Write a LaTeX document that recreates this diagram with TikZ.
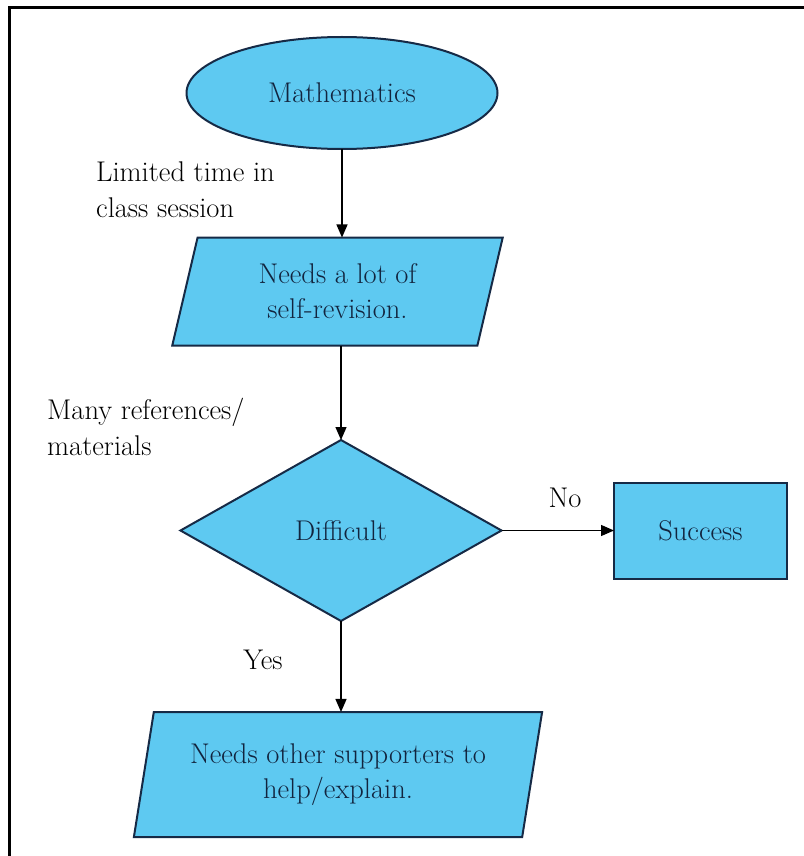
\documentclass[tikz,border=0pt]{standalone}
\usetikzlibrary{shapes.geometric,arrows.meta}
\definecolor{boxfill}{RGB}{94,201,241}
\definecolor{boxline}{RGB}{22,42,70}
\definecolor{boxtext}{RGB}{18,36,62}
\begin{document}
\begin{tikzpicture}[x=1pt,y=-1pt,
  shapebase/.style={draw=boxline,fill=boxfill,line width=2pt,text=boxtext,
    font=\fontsize{28.5}{35}\selectfont,align=center,inner sep=0pt,outer sep=0pt},
  ellbox/.style={shapebase,ellipse,minimum width=311pt,minimum height=112pt},
  parabox/.style={shapebase,trapezium,trapezium left angle=75.5,trapezium right angle=104.5,
    trapezium stretches=true},
  diabox/.style={shapebase,diamond,minimum width=321pt,minimum height=181pt},
  rectbox/.style={shapebase,rectangle,minimum width=173pt,minimum height=96pt},
  lbl/.style={font=\fontsize{28.5}{36}\selectfont,align=left,inner sep=0pt,text=black},
  conn/.style={draw=black,line width=1.3pt,-{Triangle[length=13pt,width=11pt]}}]
\useasboundingbox (0,0) rectangle (803,856);
\fill[white] (0,0) rectangle (803,856);
\draw[line width=3pt,black] (9.5,860) -- (9.5,8) -- (810,8);

\node[ellbox] (math) at (342,93) {Mathematics};
\node[parabox,minimum width=331pt,minimum height=108pt] (self) at (337.5,291.5) {Needs a lot of\\self-revision.};
\node[diabox] (diff) at (341,530.5) {Difficult};
\node[rectbox] (succ) at (700.5,530.5) {Success};
\node[parabox,minimum width=410pt,minimum height=125pt] (supp) at (338,774.5) {Needs other supporters to\\help/explain.};

\node[lbl,anchor=west] (l1) at (96,190) {Limited time in\\class session};
\node[lbl,anchor=west] (l2) at (47,427) {Many references/\\materials};
\node[lbl] (yes) at (263,660) {Yes};
\node[lbl] (no) at (565,498) {No};

\draw[conn] (math.south) -- (math.south |- self.north);
\draw[conn] (diff.north |- self.south) -- (diff.north);
\draw[conn] (diff.east) -- (succ.west);
\draw[conn] (diff.south) -- (diff.south |- supp.north);
\end{tikzpicture}
\end{document}
